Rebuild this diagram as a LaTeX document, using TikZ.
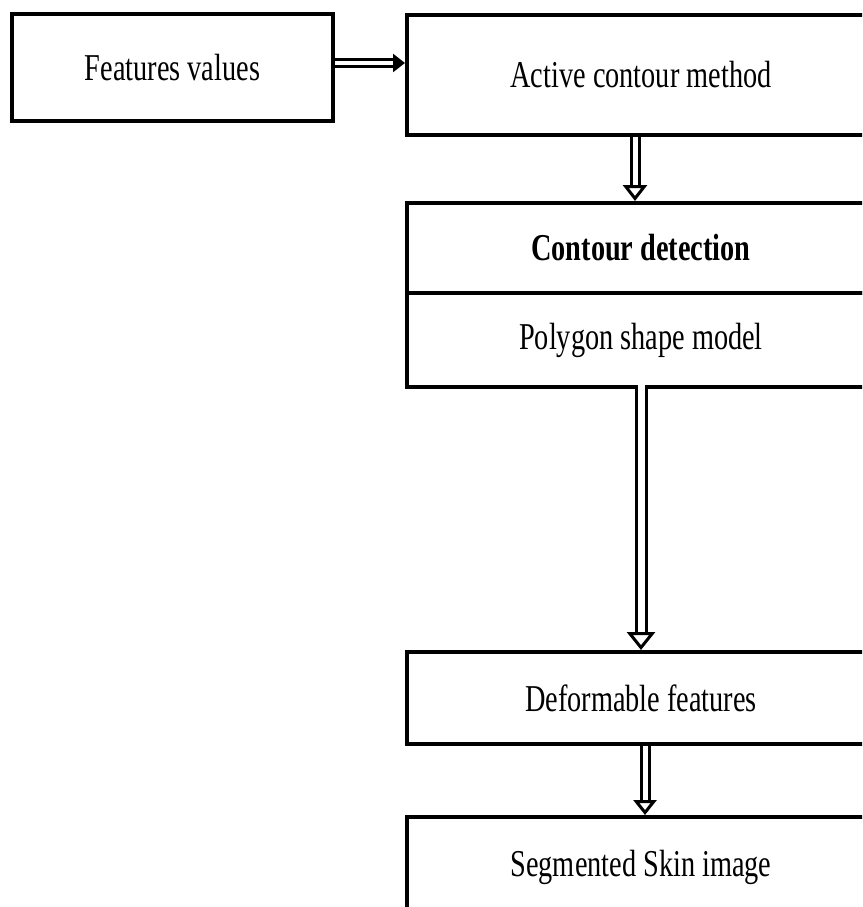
\documentclass[tikz,border=0pt]{standalone}
\usepackage{fontspec}
\setmainfont{Liberation Serif}
\usepackage{tikz}
\usetikzlibrary{arrows.meta}
\newcommand{\tallText}[1]{\scalebox{1}[1.34]{#1}}
\tikzset{
	block/.style={draw,line width=4pt,inner sep=0pt,minimum width=468pt,
		font=\fontsize{28.3}{34}\selectfont},
	flow/.style={line width=3pt,double distance=5pt,
		-{Triangle[open,length=16pt,width=24pt]}}
}

\begin{document}
\begin{tikzpicture}[x=1pt,y=-1pt]
			\clip (0,0) rectangle (862,907);
			\node[block,minimum width=321pt,minimum height=107pt] (feat) at (172.5,67.5) {\tallText{Features values}};
			\node[block,minimum height=120pt] (active) at (641,75) {\tallText{Active contour method}};
			\node[block,minimum height=90pt] (detect) at (641,248) {\tallText{\textbf{Contour detection}}};
			\node[block,minimum height=94pt] (poly) at (641,340) {\tallText{Polygon shape model}};
			\node[block,minimum height=92pt] (deform) at (641,698) {\tallText{Deformable features}};
			\node[block,minimum height=100pt] (segm) at (641,867) {\tallText{Segmented Skin image}};
			\draw[flow,line width=2.5pt,double distance=4.5pt,-{Triangle[length=12pt,width=18pt]}]
			([yshift=4.5pt]feat.east)--([yshift=4.5pt]feat.east-|active.west);
			\draw[flow]([xshift=-6pt]active.south)--([xshift=-6pt]detect.north);
			\draw[flow,double distance=7pt,-{Triangle[open,length=18pt,width=28pt]}]
			([yshift=4pt]poly.south)--(deform.north);
			\draw[flow,-{Triangle[open,length=15pt,width=23pt]}]([xshift=4pt]deform.south)--([xshift=4pt]segm.north);
\end{tikzpicture}
\end{document}
